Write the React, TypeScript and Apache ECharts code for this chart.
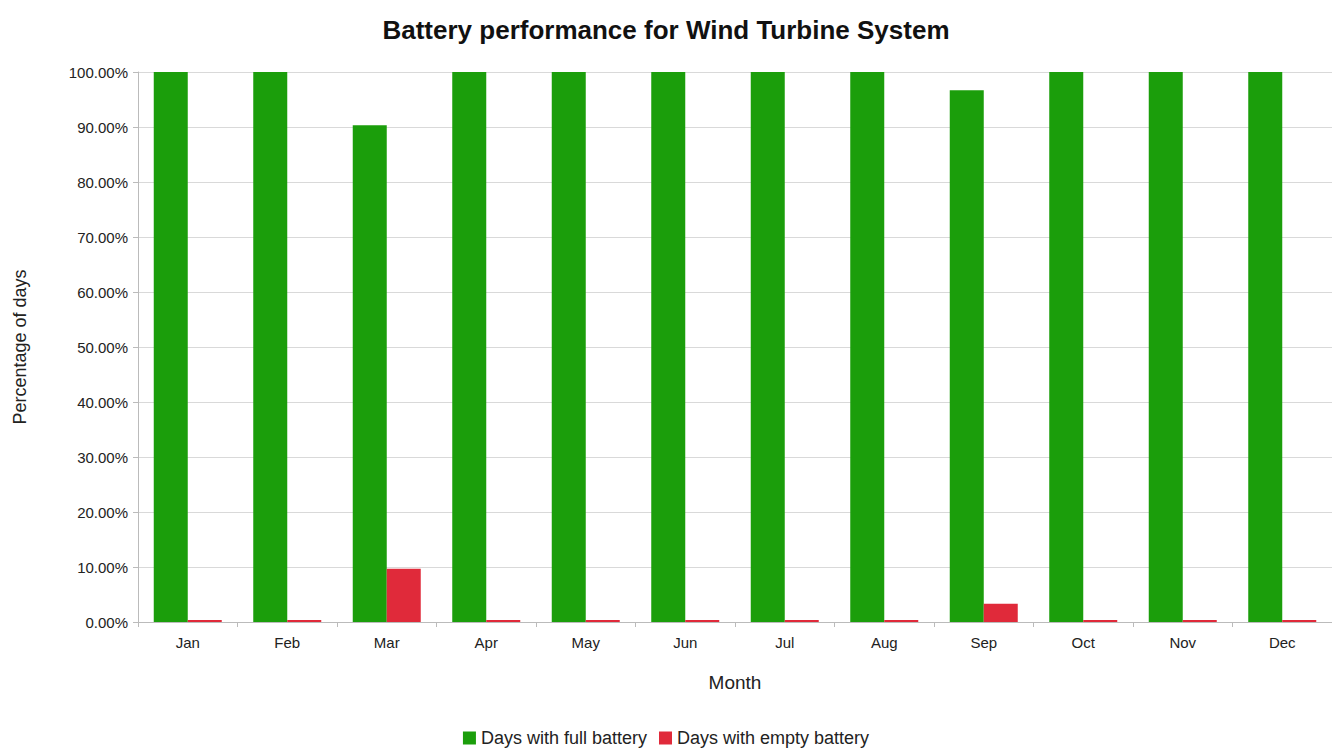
import React, { useEffect, useRef } from "react";
import * as echarts from "echarts";

const months = ["Jan", "Feb", "Mar", "Apr", "May", "Jun", "Jul", "Aug", "Sep", "Oct", "Nov", "Dec"];
const fullBattery = [100, 100, 90.32, 100, 100, 100, 100, 100, 96.67, 100, 100, 100];
const emptyBattery = [0, 0, 9.68, 0, 0, 0, 0, 0, 3.33, 0, 0, 0];
const yTicks = { min: 0, max: 100, interval: 10 };

export default function App() {
  const ref = useRef<HTMLDivElement>(null);
  useEffect(() => {
    if (!ref.current) return;
    const chart = echarts.init(ref.current, null, { renderer: "svg" });
    const font = "'Liberation Sans', Arial, sans-serif";
    chart.setOption({
      animation: false,
      textStyle: { fontFamily: font },
      title: {
        text: "Battery performance for Wind Turbine System",
        left: "center",
        top: 12,
        textStyle: { fontSize: 26, fontWeight: "bold", color: "#111", fontFamily: font },
      },
      legend: {
        top: 724,
        left: "center",
        itemWidth: 13,
        itemHeight: 13,
        itemGap: 12,
        icon: "rect",
        textStyle: { fontSize: 18, color: "#222", fontFamily: font, lineHeight: 18 },
        data: ["Days with full battery", "Days with empty battery"],
      },
      grid: { left: 138, right: 0, top: 72, bottom: 129, containLabel: false },
      xAxis: {
        type: "category",
        data: months,
        name: "Month",
        nameLocation: "middle",
        nameGap: 51,
        nameTextStyle: { fontSize: 19, color: "#222", fontFamily: font },
        axisLine: { lineStyle: { color: "#bbb" } },
        axisTick: { show: true, length: 5, lineStyle: { color: "#bbb" } },
        axisLabel: { fontSize: 15, color: "#222", margin: 13, fontFamily: font },
      },
      yAxis: {
        type: "value",
        min: yTicks.min,
        max: yTicks.max,
        interval: yTicks.interval,
        name: "Percentage of days",
        nameLocation: "middle",
        nameGap: 109,
        nameTextStyle: { fontSize: 18, color: "#222", fontFamily: font },
        axisLine: { show: true, lineStyle: { color: "#bbb" } },
        axisTick: { show: true, length: 5, lineStyle: { color: "#bbb" } },
        axisLabel: {
          fontSize: 15,
          color: "#222",
          margin: 10,
          fontFamily: font,
          formatter: (v: number) => v.toFixed(2) + "%",
        },
        splitLine: { lineStyle: { color: "#d9d9d9" } },
      },
      series: [
        {
          name: "Days with full battery",
          type: "bar",
          data: fullBattery,
          barWidth: 34,
          barGap: "0%",
          barMinHeight: 2,
          itemStyle: { color: "#1b9e0b" },
        },
        {
          name: "Days with empty battery",
          type: "bar",
          data: emptyBattery,
          barWidth: 34,
          barGap: "0%",
          barMinHeight: 2,
          itemStyle: { color: "#e02a3a" },
        },
      ],
    });
    return () => chart.dispose();
  }, []);
  return (
    <div
      ref={ref}
      style={{ position: "absolute", left: 0, top: 0, width: 1332, height: 751 }}
    />
  );
}
